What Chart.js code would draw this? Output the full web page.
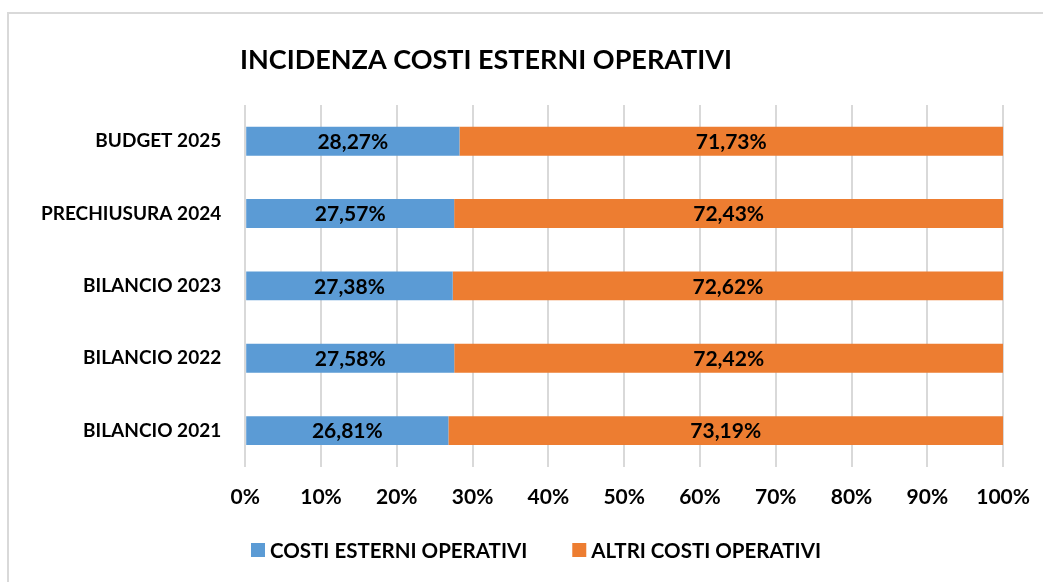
<!DOCTYPE html>
<html>
<head>
<meta charset="utf-8">
<script src="https://cdn.jsdelivr.net/npm/chart.js@4"></script>
<style>
  html, body { margin: 0; padding: 0; background: #fff; overflow: hidden; }
  .frame {
    position: absolute; left: 7px; top: 12px; width: 1060px; height: 600px;
    border: 2px solid #d9d9d9; box-sizing: border-box;
  }
  .wrap { position: absolute; left: 0; top: 0; width: 1043px; height: 582px; }
</style>
</head>
<body>
<div class="frame"></div>
<div class="wrap"><canvas id="chart"></canvas></div>
<script>
const categories = ['BUDGET 2025', 'PRECHIUSURA 2024', 'BILANCIO 2023', 'BILANCIO 2022', 'BILANCIO 2021'];
const costiEsterni = [28.27, 27.57, 27.38, 27.58, 26.81];
const altriCosti = [71.73, 72.43, 72.62, 72.42, 73.19];
const seriesNames = ['COSTI ESTERNI OPERATIVI', 'ALTRI COSTI OPERATIVI'];
const xTicks = [0, 10, 20, 30, 40, 50, 60, 70, 80, 90, 100];
const chartTitle = 'INCIDENZA COSTI ESTERNI OPERATIVI';

const fontFamily = "Lato, 'Open Sans', sans-serif";

// title drawn left-aligned like the original
const titlePlugin = {
  id: 'leftTitle',
  afterDraw(chart) {
    const ctx = chart.ctx;
    ctx.save();
    ctx.font = 'bold 27px ' + fontFamily;
    ctx.fillStyle = '#000';
    ctx.textBaseline = 'middle';
    ctx.textAlign = 'left';
    ctx.fillText(chartTitle, 240, 60);
    ctx.restore();
  }
};

// legend under the axis, square markers
const bottomLegend = {
  id: 'bottomLegend',
  afterDraw(chart) {
    const ctx = chart.ctx;
    ctx.save();
    ctx.font = 'bold 20.5px ' + fontFamily;
    ctx.textBaseline = 'middle';
    ctx.textAlign = 'left';
    let x = 251;
    const y = 550;
    chart.data.datasets.forEach((ds) => {
      ctx.fillStyle = ds.backgroundColor;
      ctx.fillRect(x, y - 7, 14, 14);
      ctx.fillStyle = '#000';
      ctx.fillText(ds.label, x + 19, y + 1);
      x += 19 + ctx.measureText(ds.label).width + 45;
    });
    ctx.restore();
  }
};

// percentage labels centred in each segment
const valueLabels = {
  id: 'valueLabels',
  afterDatasetsDraw(chart) {
    const ctx = chart.ctx;
    ctx.save();
    ctx.font = 'bold 21px ' + fontFamily;
    ctx.fillStyle = '#000';
    ctx.textAlign = 'center';
    ctx.textBaseline = 'middle';
    chart.data.datasets.forEach((ds, i) => {
      chart.getDatasetMeta(i).data.forEach((bar, j) => {
        const x = (bar.x + bar.base) / 2;
        const text = ds.data[j].toFixed(2).replace('.', ',') + '%';
        ctx.fillText(text, x, bar.y + 1);
      });
    });
    ctx.restore();
  }
};

new Chart(document.getElementById('chart'), {
  type: 'bar',
  data: {
    labels: categories,
    datasets: [
      {
        label: seriesNames[0],
        data: costiEsterni,
        backgroundColor: '#5b9bd5',
        barPercentage: 0.8,
        categoryPercentage: 0.5,
      },
      {
        label: seriesNames[1],
        data: altriCosti,
        backgroundColor: '#ed7d31',
        barPercentage: 0.8,
        categoryPercentage: 0.5,
      },
    ],
  },
  options: {
    indexAxis: 'y',
    responsive: true,
    maintainAspectRatio: false,
    animation: false,
    layout: {
      padding: { top: 105, right: 0, bottom: 54, left: 17 },
    },
    scales: {
      x: {
        stacked: true,
        min: 0,
        max: 100,
        afterBuildTicks: (axis) => {
          axis.ticks = xTicks.map((v) => ({ value: v }));
        },
        afterFit: (axis) => {
          // let the "100%" label hang a bit further right
          axis.paddingRight = Math.max(0, axis.paddingRight - 5);
        },
        grid: {
          color: '#d9d9d9',
          lineWidth: 2,
          drawTicks: false,
        },
        border: { display: false },
        ticks: {
          padding: 18,
          color: '#000',
          font: { family: fontFamily, size: 21, weight: 'bold' },
          callback: (v) => v + '%',
        },
      },
      y: {
        stacked: true,
        grid: { display: false, drawTicks: false },
        border: { display: false },
        ticks: {
          padding: 24,
          color: '#000',
          font: { family: fontFamily, size: 19, weight: 'bold' },
        },
      },
    },
    plugins: {
      title: { display: false },
      tooltip: { enabled: false },
      legend: { display: false },
    },
  },
  plugins: [titlePlugin, valueLabels, bottomLegend],
});
</script>
</body>
</html>
